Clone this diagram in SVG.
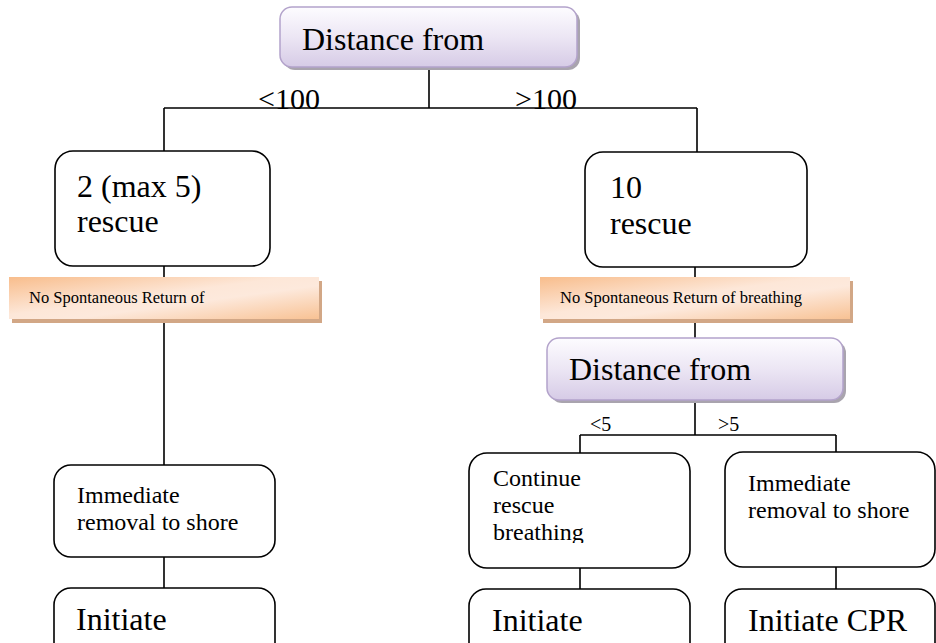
<svg xmlns="http://www.w3.org/2000/svg" width="936" height="643" viewBox="0 0 936 643">
<defs>
<linearGradient id="purple" x1="0" y1="0" x2="0" y2="1">
<stop offset="0" stop-color="#fdfcff"/>
<stop offset="0.5" stop-color="#ece6f4"/>
<stop offset="1" stop-color="#d6cbe6"/>
</linearGradient>
<linearGradient id="orange" x1="0" y1="0" x2="1" y2="1">
<stop offset="0" stop-color="#f8bd8c"/>
<stop offset="0.45" stop-color="#fde7d8"/>
<stop offset="0.6" stop-color="#fde9dc"/>
<stop offset="1" stop-color="#f8c294"/>
</linearGradient>
<clipPath id="clipCont"><rect x="469" y="453" width="221" height="90"/></clipPath>
</defs>
<style>
.box{fill:#fff;stroke:#000;stroke-width:1.6}
.pbox{fill:url(#purple);stroke:#b3a3cb;stroke-width:1.5}
.pshadow{fill:#a9a4ae}
.obar{fill:url(#orange)}
.oshadow{fill:#d2a786}
.line{stroke:#000;stroke-width:1.6;fill:none}
text{font-family:"Liberation Serif",serif;fill:#000}
.big{font-size:32px}
.mid{font-size:24px}
.sm{font-size:16.5px}
.lbl{font-size:30px}
.lbl2{font-size:20px}
</style>
<rect width="936" height="643" fill="#fff"/>
<g id="connectors">
<path class="line" d="M429 67 V108 M164 108 H697 M164 108 V151 M697 108 V152"/>
<path class="line" d="M164 266 V465 M164 557 V588"/>
<path class="line" d="M695 267 V338 M695 400 V435 M580 435 H836 M580 435 V453 M836 435 V452"/>
<path class="line" d="M580 568 V589 M836 567 V589"/>
<text class="lbl" x="258" y="109">&lt;100</text>
<text class="lbl" x="515" y="109">&gt;100</text>
<text class="lbl2" x="590" y="431">&lt;5</text>
<text class="lbl2" x="718" y="431">&gt;5</text>
</g>
<g id="n_dist1">
<rect class="pshadow" x="283" y="10" width="297" height="60" rx="12"/>
<rect class="pbox" x="280" y="7" width="297" height="60" rx="12"/>
<text class="big" x="302" y="50">Distance from</text>
</g>
<g id="n_left_rescue">
<rect class="box" x="55" y="151" width="215" height="115" rx="18"/>
<text class="big" x="77" y="197">2 (max 5)</text>
<text class="big" x="77" y="232">rescue</text>
</g>
<g id="n_right_rescue">
<rect class="box" x="585" y="152" width="222" height="115" rx="18"/>
<text class="big" x="610" y="198">10</text>
<text class="big" x="610" y="234">rescue</text>
</g>
<g id="n_bar_left">
<rect class="oshadow" x="12" y="281" width="310" height="42"/>
<rect class="obar" x="9" y="277" width="310" height="42"/>
<text class="sm" x="29" y="303">No Spontaneous Return of</text>
</g>
<g id="n_bar_right">
<rect class="oshadow" x="543" y="281" width="310" height="42"/>
<rect class="obar" x="540" y="277" width="310" height="42"/>
<text class="sm" x="560" y="303">No Spontaneous Return of breathing</text>
</g>
<g id="n_dist2">
<rect class="pshadow" x="550" y="341" width="296" height="62" rx="12"/>
<rect class="pbox" x="547" y="338" width="296" height="62" rx="12"/>
<text class="big" x="569" y="380">Distance from</text>
</g>
<g id="n_left_immediate">
<rect class="box" x="54" y="465" width="221" height="92" rx="17"/>
<text class="mid" x="77" y="503">Immediate</text>
<text class="mid" x="77" y="530">removal to shore</text>
</g>
<g id="n_continue">
<rect class="box" x="469" y="453" width="221" height="115" rx="18"/>
<g clip-path="url(#clipCont)">
<text class="mid" x="493" y="486">Continue</text>
<text class="mid" x="493" y="513">rescue</text>
<text class="mid" x="493" y="540">breathing</text>
</g>
</g>
<g id="n_right_immediate">
<rect class="box" x="725" y="452" width="210" height="115" rx="18"/>
<text class="mid" x="748" y="491">Immediate</text>
<text class="mid" x="748" y="518">removal to shore</text>
</g>
<g id="n_initiate_left">
<rect class="box" x="54" y="588" width="221" height="80" rx="17"/>
<text class="big" x="76" y="630">Initiate</text>
</g>
<g id="n_initiate_mid">
<rect class="box" x="469" y="589" width="221" height="80" rx="17"/>
<text class="big" x="492" y="631">Initiate</text>
</g>
<g id="n_initiate_cpr">
<rect class="box" x="725" y="589" width="210" height="80" rx="17"/>
<text class="big" x="748" y="631">Initiate CPR</text>
</g>
</svg>
